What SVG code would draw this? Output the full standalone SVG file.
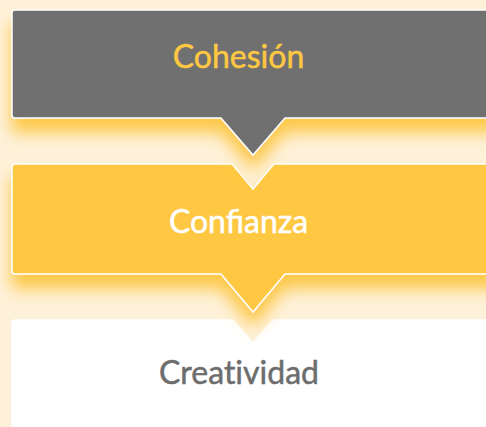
<svg xmlns="http://www.w3.org/2000/svg" width="486" height="427" viewBox="0 0 486 427">
  <style>
    .lbl { font-family: Lato, "Open Sans", "Liberation Sans", sans-serif; font-size: 32px; text-anchor: middle; stroke-width: 0.5; }
    .box { stroke: #FFFFFF; stroke-width: 1.5; stroke-linejoin: miter; }
  </style>
  <defs>
    <filter id="sh" x="-10%" y="-30%" width="130%" height="200%">
      <feDropShadow dx="0" dy="14" stdDeviation="8" flood-color="#FDC643" flood-opacity="0.95"/>
    </filter>
  </defs>
  <rect x="0" y="0" width="486" height="427" fill="#FEF1D9"/>
  <g id="node-creatividad">
    <path class="box" fill="#FFFFFF" d="M15,320 L233,320 L253,343 L273,320 L500,320 L500,440 L12,440 L12,323 Q12,320 15,320 Z"/>
    <text class="lbl" x="239" y="384" fill="#6D6D6D" stroke="#6D6D6D" style="font-variant-ligatures: none; font-feature-settings: 'liga' 0, 'dlig' 0, 'clig' 0;">Creatividad</text>
  </g>
  <g id="node-confianza">
    <path class="box" filter="url(#sh)" fill="#FEC843" d="M15,164 L232,164 L253,189 L274,164 L500,164 L500,274 L285,274 L253,312 L221,274 L15,274 Q12,274 12,271 L12,167 Q12,164 15,164 Z"/>
    <text class="lbl" x="238.5" y="233" fill="#FFFFFF" stroke="#FFFFFF">Confianza</text>
  </g>
  <g id="node-cohesion">
    <path class="box" filter="url(#sh)" fill="#6F6F6F" d="M15,10 L500,10 L500,118 L285,118 L253,155 L221,118 L15,118 Q12,118 12,115 L12,13 Q12,10 15,10 Z"/>
    <text class="lbl" x="238.5" y="68" fill="#FEC843" stroke="#FEC843">Cohesión</text>
  </g>
  <g id="connectors"></g>
</svg>
